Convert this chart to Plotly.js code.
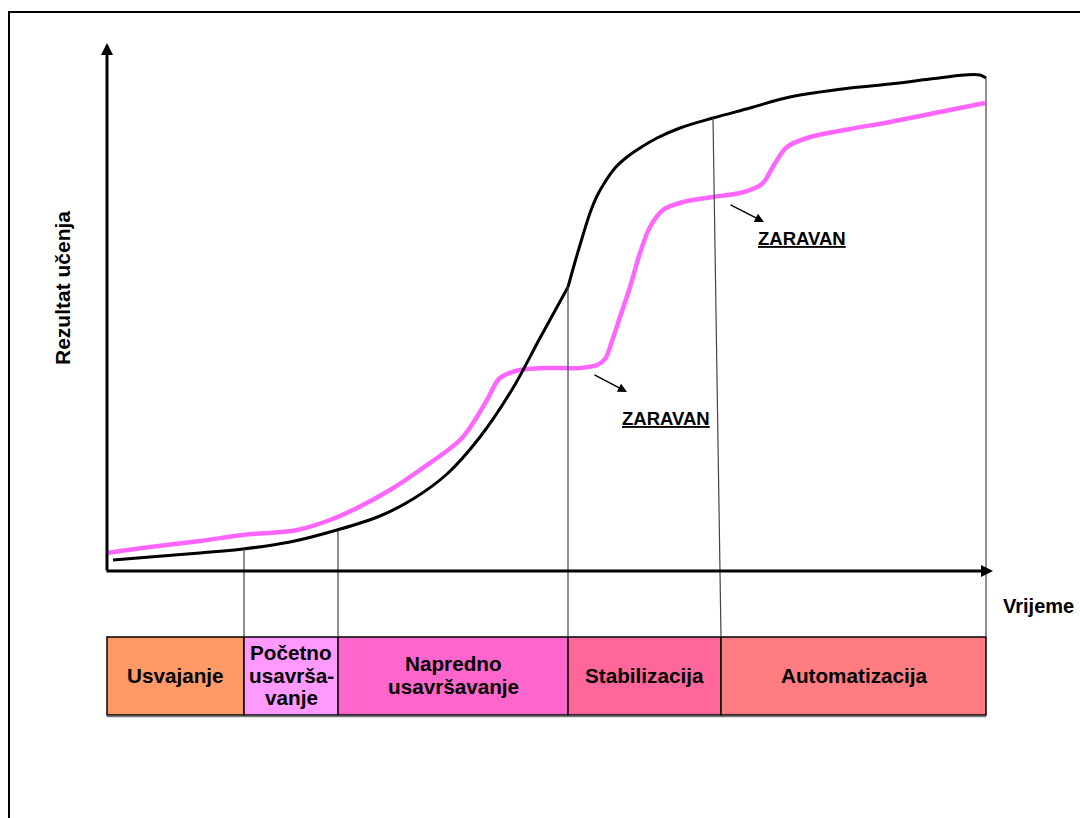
<!DOCTYPE html>
<html>
<head>
<meta charset="utf-8">
<script src="https://cdn.plot.ly/plotly-3.0.1.min.js"></script>
<style>
  html, body { margin: 0; padding: 0; background: #fff; }
  #chart { width: 1080px; height: 818px; }
</style>
</head>
<body>
<div id="chart"></div>
<script>
// learning curve: time on x, result on y (axes cross at 0,0)
const blackX1 = [6, 43, 93, 136, 183, 230, 273, 306, 340, 373, 406, 433, 461];
const blackY1 = [11, 14, 18, 22, 29, 41, 55, 72, 97, 134, 183, 233, 284];
const blackX2 = [461, 468, 476, 483, 490, 498, 508, 520, 533, 550, 573, 606, 643, 683, 743, 783, 823, 858, 873, 879];
const blackY2 = [284, 309, 336, 358, 375, 389, 403, 414, 423, 433, 443, 453, 463, 474, 483, 487, 492, 496, 496, 493];

const pinkX = [0, 43, 93, 136, 190, 223, 250, 283, 313, 353, 366, 380, 393, 413, 440, 473, 490, 498, 505, 513,
  523, 533, 543, 556, 576, 606, 633, 648, 656, 663, 670, 680, 700, 743, 783, 833, 878];
const pinkY = [18, 24, 30, 36, 41, 51, 63, 81, 101, 131, 148, 171, 193, 201, 203, 203, 206, 212, 230, 254,
  284, 318, 344, 361, 369, 374, 378, 383, 388, 399, 411, 424, 433, 442, 449, 459, 468];

// phases along the time axis
const phaseEdges = [0, 137, 231, 461, 614, 879];
const phaseNames = ['Usvajanje', 'Početno\nusavrša-\nvanje', 'Napredno\nusavršavanje', 'Stabilizacija', 'Automatizacija'];
const phaseColors = ['#FF9966', '#FF99FF', '#FF66CC', '#FF6699', '#FF7C80'];
// where each divider line meets the curve
const dividerTopX = [137, 231, 461, 606, 879];
const dividerTopY = [22, 40, 284, 453, 493];

// plateau notes: arrow start, arrow end, label
const plateauFromX = [486, 622];
const plateauFromY = [197, 367];
const plateauToX = [520, 657];
const plateauToY = [179, 349];
const plateauLabelX = [559, 695];
const plateauLabelY = [153, 333];

const bandTop = -66, bandBottom = -144;
const font = 'Liberation Sans, Arial, sans-serif';

const traces = [
  { x: pinkX, y: pinkY, mode: 'lines', line: { color: '#FF66FF', width: 4.5, shape: 'spline' }, hoverinfo: 'skip' },
  { x: blackX1, y: blackY1, mode: 'lines', line: { color: '#000', width: 3, shape: 'spline' }, hoverinfo: 'skip' },
  { x: blackX2, y: blackY2, mode: 'lines', line: { color: '#000', width: 3, shape: 'spline' }, hoverinfo: 'skip' }
];

const shapes = [];
// outer frame (top and left edges)
shapes.push({ type: 'line', xref: 'x', yref: 'y', x0: -99, y0: 559, x1: 980, y1: 559, line: { color: '#000', width: 2 } });
shapes.push({ type: 'line', xref: 'x', yref: 'y', x0: -98, y0: 559, x1: -98, y1: -250, line: { color: '#000', width: 2 } });

phaseNames.forEach((n, i) => {
  shapes.push({
    type: 'rect', xref: 'x', yref: 'y',
    x0: phaseEdges[i], x1: phaseEdges[i + 1], y0: bandBottom, y1: bandTop,
    fillcolor: phaseColors[i], line: { color: '#000', width: 1.5 }, layer: 'below'
  });
});
// soft shadow under the band row
shapes.push({ type: 'line', xref: 'x', yref: 'y', x0: phaseEdges[0], x1: phaseEdges[phaseEdges.length - 1],
  y0: bandBottom - 1.5, y1: bandBottom - 1.5, line: { color: '#777', width: 1.5 } });

dividerTopX.forEach((x, i) => {
  shapes.push({
    type: 'line', xref: 'x', yref: 'y',
    x0: x, y0: dividerTopY[i], x1: phaseEdges[i + 1], y1: bandTop,
    line: { color: '#444', width: 1.2 }
  });
});

const annotations = [];
// axes with arrow heads
annotations.push({ x: 0, y: 528, ax: 0, ay: -1, axref: 'x', ayref: 'y', xref: 'x', yref: 'y', text: '',
  showarrow: true, arrowhead: 2, arrowwidth: 3, arrowsize: 0.8, arrowcolor: '#000' });
annotations.push({ x: 886, y: 0, ax: -2, ay: 0, axref: 'x', ayref: 'y', xref: 'x', yref: 'y', text: '',
  showarrow: true, arrowhead: 2, arrowwidth: 3, arrowsize: 0.8, arrowcolor: '#000' });

annotations.push({ x: -45, y: 283, xref: 'x', yref: 'y', text: 'Rezultat učenja', textangle: -90, showarrow: false,
  font: { family: font, size: 21, color: '#000', weight: 'bold' } });
annotations.push({ x: 969, y: -35, xref: 'x', yref: 'y', xanchor: 'right', text: 'Vrijeme', showarrow: false,
  font: { family: font, size: 20, color: '#000', weight: 'bold' } });

phaseNames.forEach((n, i) => {
  const lines = n.split('\n');
  const cx = (phaseEdges[i] + phaseEdges[i + 1]) / 2;
  const cy = (bandTop + bandBottom) / 2 + 1;
  const step = 22.5;
  lines.forEach((t, j) => {
    annotations.push({
      x: cx, y: cy + ((lines.length - 1) / 2 - j) * step, xref: 'x', yref: 'y', text: t, showarrow: false,
      font: { family: font, size: 20.7, color: '#000', weight: 'bold' }
    });
  });
});

plateauFromX.forEach((x, i) => {
  annotations.push({ x: plateauToX[i], y: plateauToY[i], ax: x, ay: plateauFromY[i], axref: 'x', ayref: 'y',
    xref: 'x', yref: 'y', text: '', showarrow: true, arrowhead: 2, arrowwidth: 1.4, arrowsize: 1.3, arrowcolor: '#000' });
  annotations.push({ x: plateauLabelX[i], y: plateauLabelY[i], xref: 'x', yref: 'y', text: '<u>ZARAVAN</u>',
    showarrow: false, font: { family: font, size: 18.5, color: '#000', weight: 'bold' } });
});

const layout = {
  width: 1080, height: 818,
  margin: { l: 0, r: 0, t: 0, b: 0 },
  paper_bgcolor: '#fff', plot_bgcolor: '#fff',
  showlegend: false,
  xaxis: { range: [-107, 973], visible: false, fixedrange: true },
  yaxis: { range: [-247, 571], visible: false, fixedrange: true },
  shapes: shapes,
  annotations: annotations
};

Plotly.newPlot('chart', traces, layout, { staticPlot: true });
</script>
</body>
</html>
